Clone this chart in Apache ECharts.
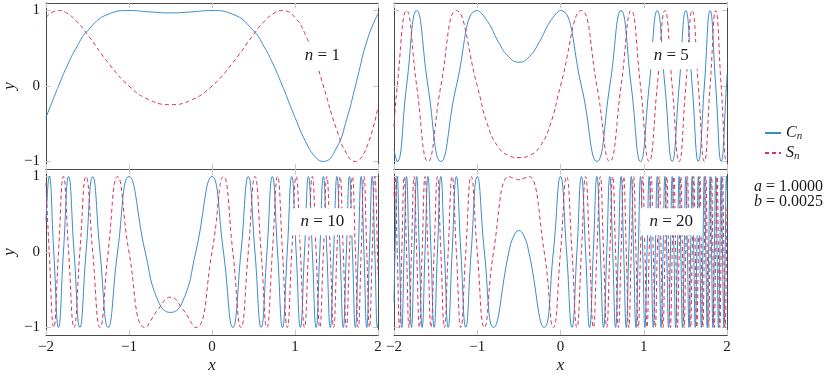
<!DOCTYPE html>
<html>
<head>
<meta charset="utf-8">
<script src="https://cdn.jsdelivr.net/npm/echarts@6/dist/echarts.min.js"></script>
<style>
html,body{margin:0;padding:0;background:#fff;}
#chart{width:830px;height:376px;}
</style>
</head>
<body>
<div id="chart"></div>
<script>
// points: [x, C_n, S_n]
var rows1 = [
    [-2,-0.416,0.909],[-1.875,-0.070,0.998],[-1.849,0,1],[-1.75,0.256,0.967],[-1.625,0.527,0.850],
    [-1.5,0.732,0.682],[-1.25,0.952,0.307],[-1,1,0],[-0.75,0.982,-0.186],[-0.5,0.969,-0.247],
    [-0.25,0.982,-0.186],[0,1,0],[0.25,0.952,0.307],[0.5,0.732,0.682],[0.625,0.527,0.850],
    [0.75,0.256,0.967],[0.849,0,1],[0.875,-0.070,0.998],[1,-0.416,0.909],[1.125,-0.731,0.682],
    [1.25,-0.946,0.323],[1.342,-1,0],[1.5,-0.821,-0.572],[1.625,-0.432,-0.902],[1.728,0,-1],
    [1.75,0.100,-0.995],[1.875,0.627,-0.779],[2,0.960,-0.279]
];
var rows5 = [
    [-2,-0.839,-0.544],[-1.9611,-1,0],[-1.8494,0,1],[-1.7275,1,0],[-1.5920,0,-1],[-1.4372,-1,0],
    [-1.2511,0,1],[-1,1,0],[-0.875,0.854,-0.520],[-0.75,0.592,-0.806],[-0.625,0.389,-0.921],
    [-0.5,0.315,-0.949],[-0.375,0.389,-0.921],[-0.25,0.592,-0.806],[-0.125,0.854,-0.520],
    [0,1,0],[0.2511,0,1],[0.4372,-1,0],[0.5920,0,-1],[0.7275,1,0],[0.8494,0,1],[0.9611,-1,0],
    [1.0650,0,-1],[1.1623,1,0],[1.2543,0,1],[1.3416,-1,0],[1.4250,0,-1],[1.5050,1,0],
    [1.5818,0,1],[1.6560,-1,0],[1.7276,0,-1],[1.7971,1,0],[1.8645,0,1],[1.9300,-1,0],
    [1.9938,0,-1],[2,0.154,-0.988]
];
var rows10 = [
    [-2,0.408,0.913],[-1.9611,1,0],[-1.9064,0,-1],[-1.8494,-1,0],[-1.7899,0,1],[-1.7275,1,0],
    [-1.6617,0,-1],[-1.5920,-1,0],[-1.5175,0,1],[-1.4372,1,0],[-1.3493,0,-1],[-1.2511,-1,0],
    [-1.1380,0,1],[-1,1,0],[-0.8048,0,-1],[-0.65,-0.647,-0.762],[-0.5,-0.801,-0.599],
    [-0.35,-0.647,-0.762],[-0.1952,0,-1],[0,1,0],[0.1380,0,1],[0.2511,-1,0],[0.3493,0,-1],
    [0.4372,1,0],[0.5175,0,1],[0.5920,-1,0],[0.6617,0,-1],[0.7275,1,0],[0.7899,0,1],
    [0.8494,-1,0],[0.9064,0,-1],[0.9611,1,0],[1.0139,0,1],[1.0650,-1,0],[1.1144,0,-1],
    [1.1623,1,0],[1.2089,0,1],[1.2543,-1,0],[1.2985,0,-1],[1.3416,1,0],[1.3838,0,1],
    [1.4250,-1,0],[1.4654,0,-1],[1.5050,1,0],[1.5438,0,1],[1.5818,-1,0],[1.6192,0,-1],
    [1.6560,1,0],[1.6921,0,1],[1.7276,-1,0],[1.7626,0,-1],[1.7971,1,0],[1.8310,0,1],
    [1.8645,-1,0],[1.8975,0,-1],[1.9300,1,0],[1.9621,0,1],[1.9938,-1,0],[2,-0.952,-0.305]
];
var rows20 = [
    [-2,-0.667,0.745],[-1.9878,0,1],[-1.9611,1,0],[-1.9340,0,-1],[-1.9064,-1,0],[-1.8782,0,1],
    [-1.8494,1,0],[-1.8199,0,-1],[-1.7899,-1,0],[-1.7590,0,1],[-1.7275,1,0],[-1.6950,0,-1],
    [-1.6617,-1,0],[-1.6274,0,1],[-1.5920,1,0],[-1.5554,0,-1],[-1.5175,-1,0],[-1.4782,0,1],
    [-1.4372,1,0],[-1.3943,0,-1],[-1.3493,-1,0],[-1.3017,0,1],[-1.2511,1,0],[-1.1969,0,-1],
    [-1.1380,-1,0],[-1.0732,0,1],[-1,1,0],[-0.9141,0,-1],[-0.8048,-1,0],[-0.6199,0,1],
    [-0.56,0.214,0.977],[-0.5,0.284,0.959],[-0.44,0.214,0.977],[-0.3801,0,1],[-0.1952,-1,0],
    [-0.0859,0,-1],[0,1,0],[0.0732,0,1],[0.1380,-1,0],[0.1969,0,-1],[0.2511,1,0],[0.3017,0,1],
    [0.3493,-1,0],[0.3943,0,-1],[0.4372,1,0],[0.4782,0,1],[0.5175,-1,0],[0.5554,0,-1],
    [0.5920,1,0],[0.6274,0,1],[0.6617,-1,0],[0.6950,0,-1],[0.7275,1,0],[0.7590,0,1],
    [0.7899,-1,0],[0.8199,0,-1],[0.8494,1,0],[0.8782,0,1],[0.9064,-1,0],[0.9340,0,-1],
    [0.9611,1,0],[0.9878,0,1],[1.0139,-1,0],[1.0397,0,-1],[1.0650,1,0],[1.0899,0,1],
    [1.1144,-1,0],[1.1385,0,-1],[1.1623,1,0],[1.1858,0,1],[1.2089,-1,0],[1.2317,0,-1],
    [1.2543,1,0],[1.2765,0,1],[1.2985,-1,0],[1.3202,0,-1],[1.3416,1,0],[1.3628,0,1],
    [1.3838,-1,0],[1.4045,0,-1],[1.4250,1,0],[1.4453,0,1],[1.4654,-1,0],[1.4853,0,-1],
    [1.5050,1,0],[1.5245,0,1],[1.5438,-1,0],[1.5629,0,-1],[1.5818,1,0],[1.6006,0,1],
    [1.6192,-1,0],[1.6377,0,-1],[1.6560,1,0],[1.6741,0,1],[1.6921,-1,0],[1.7099,0,-1],
    [1.7276,1,0],[1.7452,0,1],[1.7626,-1,0],[1.7799,0,-1],[1.7971,1,0],[1.8141,0,1],
    [1.8310,-1,0],[1.8478,0,-1],[1.8645,1,0],[1.8810,0,1],[1.8975,-1,0],[1.9138,0,-1],
    [1.9300,1,0],[1.9461,0,1],[1.9621,-1,0],[1.9780,0,-1],[1.9938,1,0],[2,0.814,0.581]
];
var panelRows = [rows1, rows5, rows10, rows20];
var panelN = [1, 5, 10, 20];
var yTicks = [-1, 0, 1];
var seriesNames = ['C_n', 'S_n'];
var paramLines = [['a', '1.0000'], ['b', '0.0025']];

var myChart = echarts.init(document.getElementById('chart'));

var SERIF = "'Liberation Serif'";
var blue = '#3a8ec6';
var red = '#d6335a';
var frameColor = '#4a4a4a';
var tickColor = '#c8c8c8';
var textColor = '#1a1a1a';

// 2x2 panels
var grids = [
    {left: 45, top: 3, width: 333, height: 166},
    {left: 394, top: 3, width: 333, height: 166},
    {left: 45, top: 169, width: 333, height: 166},
    {left: 394, top: 169, width: 333, height: 166}
];

function fmtNum(v) {
    return v < 0 ? '\u2212' + (-v) : String(v);
}

var xAxes = [], yAxes = [], series = [];
for (let i = 0; i < 4; i++) {
    let bottomRow = i >= 2;
    let leftCol = (i % 2) === 0;
    xAxes.push({
        type: 'value', gridIndex: i, min: -2, max: 2, interval: 1, position: 'bottom',
        axisLine: {show: true, onZero: false, lineStyle: {color: frameColor, width: 1}},
        axisTick: {show: true, inside: true, length: 5, lineStyle: {color: tickColor}},
        axisLabel: {show: bottomRow, margin: 5, color: textColor, fontFamily: SERIF, fontSize: 15,
            showMinLabel: true, showMaxLabel: true, formatter: fmtNum},
        splitLine: {show: false},
        name: bottomRow ? 'x' : '', nameLocation: 'middle', nameGap: 22,
        nameTextStyle: {fontFamily: SERIF, fontStyle: 'italic', fontSize: 17, color: textColor}
    });
    xAxes.push({
        type: 'value', gridIndex: i, min: -2, max: 2, interval: 1, position: 'top',
        axisLine: {show: true, onZero: false, lineStyle: {color: frameColor, width: 1}},
        axisTick: {show: true, inside: true, length: 5, lineStyle: {color: tickColor}},
        axisLabel: {show: false}, splitLine: {show: false}
    });
    yAxes.push({
        type: 'value', gridIndex: i, min: -1.1, max: 1.1, position: 'left',
        axisLine: {show: true, onZero: false, lineStyle: {color: frameColor, width: 1}},
        axisTick: {show: true, inside: true, length: 5, customValues: yTicks, lineStyle: {color: tickColor}},
        axisLabel: {show: leftCol, margin: 6, customValues: yTicks, color: textColor, fontFamily: SERIF,
            fontSize: 15, formatter: fmtNum},
        splitLine: {show: false},
        name: leftCol ? 'y' : '', nameLocation: 'middle', nameGap: 28,
        nameTextStyle: {fontFamily: SERIF, fontStyle: 'italic', fontSize: 17, color: textColor}
    });
    yAxes.push({
        type: 'value', gridIndex: i, min: -1.1, max: 1.1, position: 'right',
        axisLine: {show: true, onZero: false, lineStyle: {color: frameColor, width: 1}},
        axisTick: {show: true, inside: true, length: 5, customValues: yTicks, lineStyle: {color: tickColor}},
        axisLabel: {show: false}, splitLine: {show: false}
    });

    let rows = panelRows[i];
    series.push({
        type: 'line', name: seriesNames[0], xAxisIndex: 2 * i, yAxisIndex: 2 * i,
        data: rows.map(function (r) { return [r[0], r[1]]; }),
        smooth: true, symbol: 'none', z: 2,
        lineStyle: {color: blue, width: 1}, itemStyle: {color: blue}
    });
    series.push({
        type: 'line', name: seriesNames[1], xAxisIndex: 2 * i, yAxisIndex: 2 * i,
        data: rows.map(function (r) { return [r[0], r[2]]; }),
        smooth: true, symbol: 'none', z: 3,
        lineStyle: {color: red, width: 1, type: [4, 3]}, itemStyle: {color: red},
        // panel tag "n = ..." on a white box
        markPoint: {
            silent: true, symbol: 'rect', symbolSize: 0, animation: false,
            data: [{coord: [1.33, 0.4]}],
            label: {
                show: true, position: 'inside', backgroundColor: '#fff', padding: [5, 9],
                formatter: '{i|n} = ' + panelN[i],
                color: textColor, fontFamily: SERIF, fontSize: 17,
                rich: {i: {fontFamily: SERIF, fontStyle: 'italic', fontSize: 17, color: textColor}}
            }
        }
    });
}

var option = {
    animation: false,
    backgroundColor: '#fff',
    grid: grids,
    xAxis: xAxes,
    yAxis: yAxes,
    legend: {
        orient: 'vertical', left: 759, top: 120, itemWidth: 16, itemHeight: 8, itemGap: 3,
        data: seriesNames,
        itemStyle: {opacity: 0, borderWidth: 0},
        formatter: function (name) {
            return '{i|' + name.charAt(0) + '}{s|n}';
        },
        textStyle: {
            color: textColor, fontFamily: SERIF, fontSize: 16,
            rich: {
                i: {fontFamily: SERIF, fontStyle: 'italic', fontSize: 16, color: textColor},
                s: {fontFamily: SERIF, fontStyle: 'italic', fontSize: 11, color: textColor, padding: [7, 0, 0, 0]}
            }
        }
    },
    graphic: paramLines.map(function (p, k) {
        return {
            type: 'text', x: 823, y: 187 + k * 15, silent: true,
            style: {
                text: '{i|' + p[0] + '} = ' + p[1],
                align: 'right', verticalAlign: 'middle',
                fill: textColor, fontSize: 16, fontFamily: SERIF,
                rich: {i: {fontFamily: SERIF, fontStyle: 'italic', fontSize: 16, fill: textColor}}
            }
        };
    }),
    series: series
};
myChart.setOption(option);
</script>
</body>
</html>
